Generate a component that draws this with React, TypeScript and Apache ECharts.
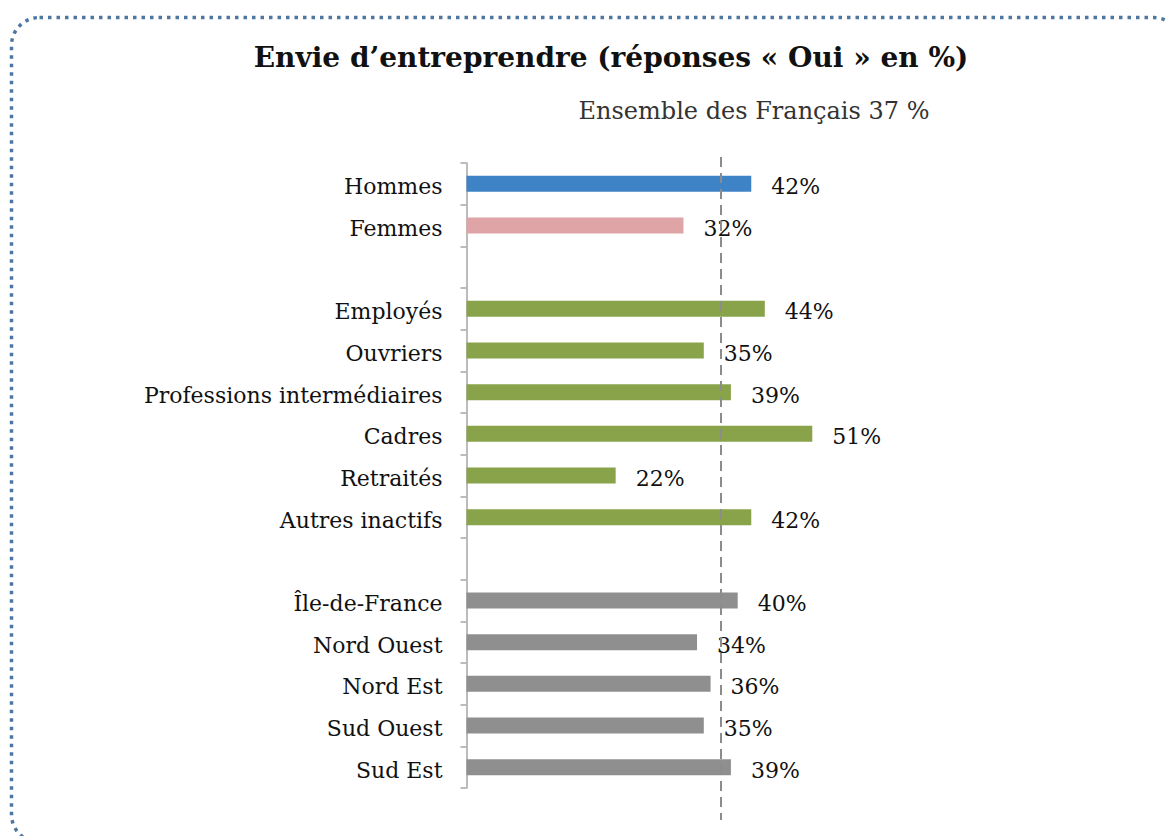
import React, { useEffect, useRef } from 'react';
import * as echarts from 'echarts';

const titleText = 'Envie d’entreprendre (réponses « Oui » en %)';
const referenceLabel = 'Ensemble des Français 37 %';
const referencePosition = 37.5;

const categories = [
  'Hommes', 'Femmes', ' ',
  'Employés', 'Ouvriers', 'Professions intermédiaires', 'Cadres', 'Retraités', 'Autres inactifs', '  ',
  'Île-de-France', 'Nord Ouest', 'Nord Est', 'Sud Ouest', 'Sud Est',
];
const values: (number | null)[] = [42, 32, null, 44, 35, 39, 51, 22, 42, null, 40, 34, 36, 35, 39];
const barColors = [
  '#3e83c5', '#dfa4a5', '#ffffff',
  '#89a34b', '#89a34b', '#89a34b', '#89a34b', '#89a34b', '#89a34b', '#ffffff',
  '#8f8f8f', '#8f8f8f', '#8f8f8f', '#8f8f8f', '#8f8f8f',
];

const SERIF = '"DejaVu Serif", "Liberation Serif", serif';

export default function App() {
  const ref = useRef<HTMLDivElement>(null);
  useEffect(() => {
    const chart = echarts.init(ref.current!, null, { renderer: 'svg' });
    chart.setOption({
      animation: false,
      backgroundColor: '#ffffff',
      grid: { left: 466.5, top: 163, height: 625, width: 678 },
      xAxis: { type: 'value', min: 0, max: 100, show: false },
      yAxis: {
        type: 'category',
        inverse: true,
        data: categories,
        axisLine: { show: true, lineStyle: { color: '#a6a6a6', width: 1.5 } },
        axisTick: { show: true, length: 6, lineStyle: { color: '#a6a6a6', width: 1.5 } },
        axisLabel: {
          margin: 24, color: '#111', fontFamily: SERIF, fontSize: 22,
          formatter: (v: string) => '{a|' + v + '}',
          rich: { a: { color: '#111', fontFamily: SERIF, fontSize: 22, padding: [6, 0, 0, 0] } },
        },
        splitLine: { show: false },
      },
      graphic: [
        {
          type: 'rect', silent: true,
          shape: { x: 11.5, y: 17.5, width: 1170, height: 825, r: 28 },
          style: { fill: 'none', stroke: '#4d77a0', lineWidth: 3.5, lineDash: [3.5, 5] },
        },
        {
          type: 'text', x: 611, y: 57,
          style: { text: titleText, fontFamily: SERIF, fontWeight: 'bold', fontSize: 28, fill: '#111', align: 'center', verticalAlign: 'middle' },
        },
        {
          type: 'text', x: 754, y: 111,
          style: { text: referenceLabel, fontFamily: SERIF, fontSize: 24, fill: '#333', align: 'center', verticalAlign: 'middle' },
        },
      ],
      series: [
        {
          type: 'bar',
          barWidth: 16,
          data: values.map((v, i) => ({ value: v, itemStyle: { color: barColors[i] } })),
          label: {
            show: true, position: 'right', distance: 20, offset: [0, 3],
            formatter: (p: any) => (p.value == null ? '' : p.value + '%'),
            color: '#111', fontFamily: SERIF, fontSize: 22,
          },
          markLine: {
            silent: true,
            symbol: 'none',
            label: { show: false },
            lineStyle: { type: [10, 6], color: '#8c8c8c', width: 2 },
            data: [[{ xAxis: referencePosition, y: 157 }, { xAxis: referencePosition, y: 820 }]],
          },
        },
      ],
    });
    return () => chart.dispose();
  }, []);
  return (
    <div
      ref={ref}
      style={{ position: 'fixed', left: 0, top: 0, width: 1167, height: 836, background: '#fff' }}
    />
  );
}
